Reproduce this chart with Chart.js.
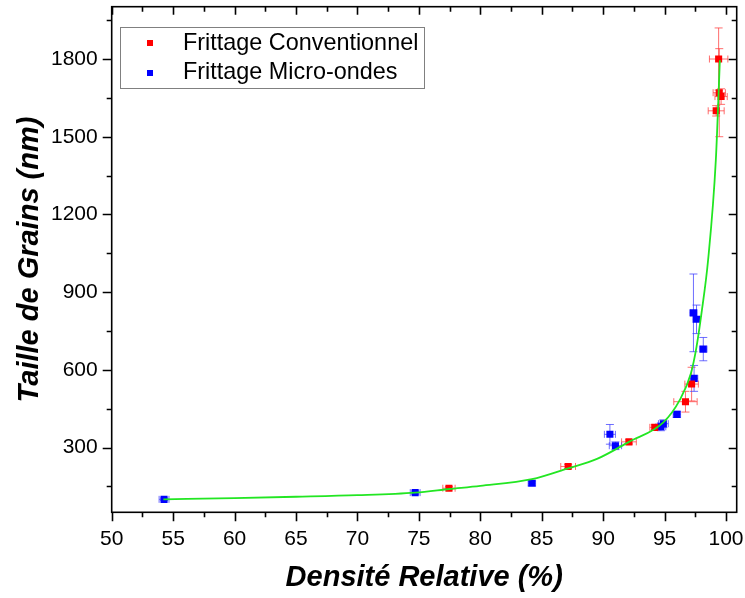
<!DOCTYPE html>
<html><head><meta charset="utf-8">
<script src="https://cdn.jsdelivr.net/npm/chart.js@4.4.0/dist/chart.umd.min.js"></script>
<style>html,body{margin:0;padding:0;background:#fff}#wrap{width:745px;height:598px;position:relative}</style>
</head><body><div id="wrap"><canvas id="c" width="745" height="598"></canvas></div>
<script>
// ---- data ----
const seriesNames = ['Frittage Conventionnel', 'Frittage Micro-ondes'];
const convX    = [77.45, 87.15, 92.1, 94.2, 96.7, 97.2, 99.2, 99.45, 99.6, 99.4];
const convY    = [143, 227, 322, 378, 477, 545, 1600, 1670, 1655, 1800];
const convXErr = [0.5, 0.6, 0.6, 0.4, 0.95, 0.55, 0.65, 0.5, 0.5, 0.75];
const convYErr = [6, 8, 8, 10, 40, 65, 20, 170, 30, 120];
const microX    = [54.26, 74.7, 84.2, 90.55, 91.0, 94.7, 94.9, 96.0, 97.4, 97.35, 97.6, 98.15];
const microY    = [100, 126, 162, 351, 307, 380, 392, 428, 567, 820, 795, 680];
const microXErr = [0.4, 0.4, 0.3, 0.45, 0.5, 0.4, 0.4, 0.3, 0.3, 0.3, 0.3, 0.3];
const microYErr = [5, 6, 8, 38, 15, 15, 15, 12, 50, 150, 55, 45];
const fitX = [54.2, 60, 65, 70, 74.7, 77.5, 80, 84.2, 87.15, 89.5, 92.1, 94.9, 96.24, 97.14, 97.6, 98.0, 98.54, 99.17, 99.5];
const fitY = [100, 105, 110, 116, 126, 140, 152, 178, 220, 256, 322, 397, 484, 586, 689, 817, 1023, 1409, 1795];
const xTicks = [50, 55, 60, 65, 70, 75, 80, 85, 90, 95, 100];
const yTicks = [300, 600, 900, 1200, 1500, 1800];
const xMinorStep = 2.5, yMinorStep = 150;
const xTitle = 'Densité Relative (%)';
const yTitle = 'Taille de Grains (nm)';

const pts = (xs, ys) => xs.map((x, i) => ({x, y: ys[i]}));
const FONT = "'Liberation Sans', Arial, sans-serif";

const errPlugin = {
  id: 'errbars',
  beforeDatasetsDraw(chart) {
    const {ctx, scales: {x, y}} = chart;
    const groups = [
      [convX, convY, convXErr, convYErr, 'rgba(255,60,60,0.75)'],
      [microX, microY, microXErr, microYErr, 'rgba(60,60,255,0.75)']
    ];
    ctx.save();
    ctx.lineWidth = 1;
    groups.forEach(([xs, ys, xe, ye, col]) => {
      ctx.strokeStyle = col;
      xs.forEach((xv, i) => {
        const px = x.getPixelForValue(xv), py = y.getPixelForValue(ys[i]);
        const x1 = x.getPixelForValue(xv - xe[i]), x2 = x.getPixelForValue(xv + xe[i]);
        const y1 = y.getPixelForValue(ys[i] + ye[i]), y2 = y.getPixelForValue(ys[i] - ye[i]);
        ctx.beginPath();
        ctx.moveTo(x1, py); ctx.lineTo(x2, py);
        ctx.moveTo(x1, py - 3.5); ctx.lineTo(x1, py + 3.5);
        ctx.moveTo(x2, py - 3.5); ctx.lineTo(x2, py + 3.5);
        if (Math.abs(y2 - y1) > 2) {
          ctx.moveTo(px, y1); ctx.lineTo(px, y2);
          ctx.moveTo(px - 4, y1); ctx.lineTo(px + 4, y1);
          ctx.moveTo(px - 4, y2); ctx.lineTo(px + 4, y2);
        }
        ctx.stroke();
      });
    });
    ctx.restore();
  }
};

const framePlugin = {
  id: 'frame',
  afterDraw(chart) {
    const {ctx, chartArea: a, scales: {x, y}} = chart;
    ctx.save();
    ctx.strokeStyle = '#000';
    ctx.lineWidth = 1.6;
    ctx.strokeRect(a.left, a.top, a.right - a.left, a.bottom - a.top);
    ctx.beginPath();
    for (let v = x.min; v <= x.max + 1e-9; v += xMinorStep) {
      const major = xTicks.includes(v);
      const px = Math.round(x.getPixelForValue(v)) + 0.5;
      ctx.moveTo(px, a.bottom); ctx.lineTo(px, a.bottom + (major ? 9 : 5));
      ctx.moveTo(px, a.top); ctx.lineTo(px, a.top + (major ? 8 : 5));
    }
    for (let v = yMinorStep; v <= y.max; v += yMinorStep) {
      if (v < y.min) continue;
      const major = yTicks.includes(v);
      const py = Math.round(y.getPixelForValue(v)) + 0.5;
      ctx.moveTo(a.left, py); ctx.lineTo(a.left - (major ? 9 : 5), py);
      ctx.moveTo(a.right, py); ctx.lineTo(a.right - (major ? 8 : 5), py);
    }
    ctx.stroke();
    // legend
    ctx.lineWidth = 1;
    ctx.strokeStyle = '#808080';
    ctx.strokeRect(120.5, 27.5, 304, 61);
    ctx.fillStyle = '#ff0000';
    ctx.fillRect(147, 40, 6, 6);
    ctx.fillStyle = '#0000ff';
    ctx.fillRect(147, 70, 6, 6);
    ctx.fillStyle = '#000';
    ctx.font = '23.4px ' + FONT;
    ctx.textBaseline = 'alphabetic';
    ctx.textAlign = 'left';
    ctx.fillText(seriesNames[0], 183, 50);
    ctx.fillText(seriesNames[1], 183, 79);
    ctx.restore();
  }
};

const zeroPad = s => { s.paddingTop = 0; s.paddingBottom = 0; s.paddingLeft = 0; s.paddingRight = 0; };

new Chart(document.getElementById('c'), {
  type: 'scatter',
  data: {
    datasets: [
      {
        label: 'fit', type: 'line', data: pts(fitX, fitY),
        borderColor: '#22e622', borderWidth: 1.8, pointRadius: 0,
        cubicInterpolationMode: 'monotone', fill: false
      },
      {
        label: seriesNames[0], data: pts(convX, convY),
        pointStyle: 'rect', pointRadius: 5, backgroundColor: '#ff0000', borderWidth: 0
      },
      {
        label: seriesNames[1], data: pts(microX, microY),
        pointStyle: 'rect', pointRadius: 5, backgroundColor: '#0000ff', borderWidth: 0
      }
    ]
  },
  options: {
    responsive: false, animation: false, devicePixelRatio: 1,
    layout: {padding: {top: 6.7, right: 8.3, left: 0, bottom: 0}},
    plugins: {legend: {display: false}, tooltip: {enabled: false}},
    scales: {
      x: {
        type: 'linear', min: 50, max: 100.87,
        afterBuildTicks: s => { s.ticks = xTicks.map(v => ({value: v})); },
        afterFit: s => { s.height = 85.7; zeroPad(s); },
        grid: {display: false, drawTicks: false}, border: {display: false},
        ticks: {color: '#000', font: {family: FONT, size: 21}, padding: 14, maxRotation: 0,
          callback: v => String(v)},
        title: {display: true, text: xTitle, color: '#000',
          font: {family: FONT, size: 29, weight: 'bold', style: 'italic'}, padding: {bottom: 2.6}}
      },
      y: {
        type: 'linear', min: 50, max: 2002,
        afterBuildTicks: s => { s.ticks = yTicks.map(v => ({value: v})); },
        afterFit: s => { s.width = 111.7; zeroPad(s); },
        grid: {display: false, drawTicks: false}, border: {display: false},
        ticks: {color: '#000', font: {family: FONT, size: 21}, padding: 14,
          callback: v => String(v)},
        title: {display: true, text: yTitle, color: '#000',
          font: {family: FONT, size: 29, weight: 'bold', style: 'italic'}, padding: {top: 12.6}}
      }
    }
  },
  plugins: [errPlugin, framePlugin]
});
</script>
</body></html>
